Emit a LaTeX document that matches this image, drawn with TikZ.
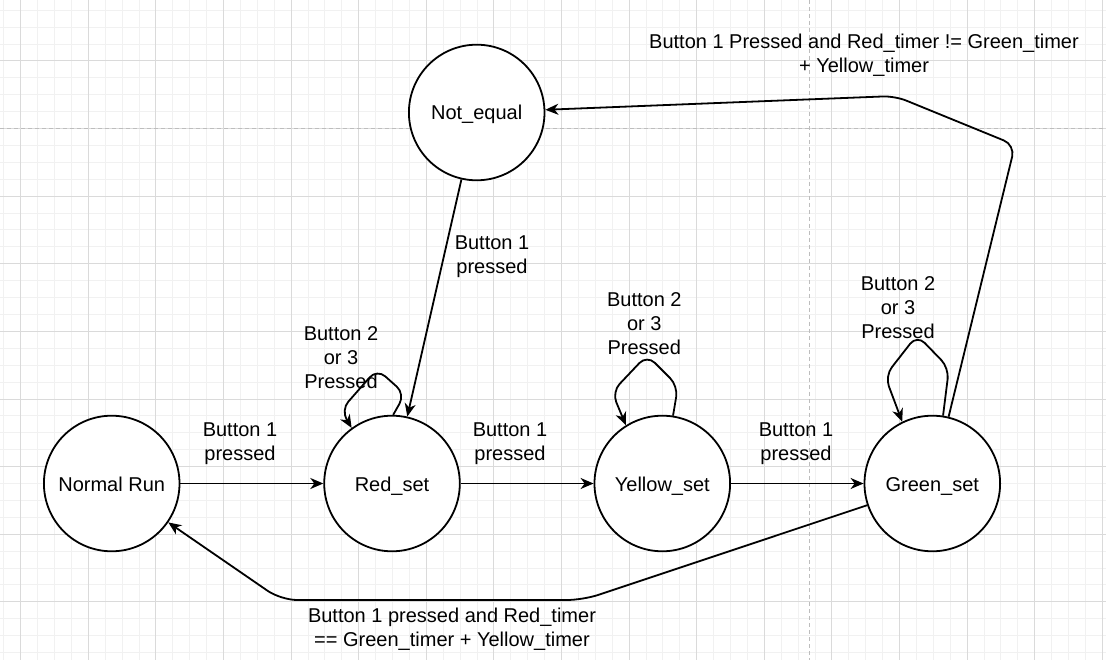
\documentclass[tikz,border=0pt]{standalone}
\usepackage{fontspec}
\setmainfont{Liberation Sans}
\usetikzlibrary{arrows.meta}
\definecolor{gridminor}{HTML}{F1F1F1}
\definecolor{gridmajor}{HTML}{DADADA}
\definecolor{pagebreak}{HTML}{BDBDBD}
\tikzset{
  state/.style={circle, draw=black, line width=1.8pt, fill=white, minimum size=135.6pt, inner sep=0pt, text height=15pt, text depth=0pt, font=\fontsize{20}{24}\selectfont},
  lbl/.style={align=center, inner sep=0pt, text depth=0pt, font=\fontsize{20}{24}\selectfont},
  arr/.style={draw=black, line width=1.8pt, -{Stealth[length=13pt,width=11pt,inset=4pt]}},
}
\begin{document}
\begin{tikzpicture}[x=1pt,y=-1pt]
\useasboundingbox (0,0) rectangle (1106,660);
\fill[white] (0,0) rectangle (1106,660);
% grid
\foreach \i in {0,...,65} {\draw[gridminor, line width=1pt] ({3.8+16.9*\i},0) -- ({3.8+16.9*\i},660);}
\foreach \i in {0,...,38} {\draw[gridminor, line width=1pt] (0,{10.3+16.9*\i}) -- (1106,{10.3+16.9*\i});}
\foreach \j in {0,...,16} {\draw[gridmajor, line width=1pt] ({20.7+67.6*\j},0) -- ({20.7+67.6*\j},660);}
\foreach \j in {0,...,8} {\draw[gridmajor, line width=1pt] (0,{61+67.6*\j}) -- (1106,{61+67.6*\j});}
\draw[pagebreak, line width=1pt, dash pattern=on 4pt off 3pt] (0,128.5) -- (1106,128.5);
\draw[pagebreak, line width=1pt, dash pattern=on 4pt off 3pt] (809.3,0) -- (809.3,660);

% states
\node[state] (nr) at (111.7,483.5) {Normal Run};
\node[state] (rs) at (392,483.5) {Red\_set};
\node[state] (ys) at (662.3,483.5) {Yellow\_set};
\node[state] (gs) at (932.3,483.5) {Green\_set};
\node[state] (ne) at (476.7,112.5) {Not\_equal};

% waypoints
\coordinate (b1) at (583,600);
\coordinate (b2) at (281,600);
\coordinate (t1) at (1015,145);
\coordinate (t2) at (895,96);

% transitions
\draw[arr] (nr) -- (rs);
\draw[arr] (rs) -- (ys);
\draw[arr] (ys) -- (gs);
\draw[arr] (ne) -- (rs);
\draw[arr, rounded corners=16pt] (gs) -- (b1) -- (b2) -- (nr);
\draw[arr, rounded corners=12pt] (gs) -- (t1) -- (t2) -- (ne);

% self loops
\draw[arr, rounded corners=11pt] (rs.89) -- (405,394) -- (377,369) -- (341,410) -- (rs.126);
\draw[arr, rounded corners=11pt] (ys.81) -- (678,386) -- (647,355) -- (612,392) -- (ys.122);
\draw[arr, rounded corners=11pt] (gs.81.5) -- (949,368) -- (917,335) -- (885,376) -- (gs.116);

% labels
\node[lbl] (l1) at (240,442) {Button 1\\pressed};
\node[lbl] (l2) at (510,442) {Button 1\\pressed};
\node[lbl] (l3) at (796,442) {Button 1\\pressed};
\node[lbl] (l4) at (492,255) {Button 1\\pressed};
\node[lbl] (l5) at (864,53) {Button 1 Pressed and Red\_timer != Green\_timer\\+ Yellow\_timer};
\node[lbl] (l6) at (452,627) {Button 1 pressed and Red\_timer\\== Green\_timer + Yellow\_timer};
\node[lbl] (l7) at (341,358) {Button 2\\or 3\\Pressed};
\node[lbl] (l8) at (644.3,323.5) {Button 2\\or 3\\Pressed};
\node[lbl] (l9) at (898,308) {Button 2\\or 3\\Pressed};
\end{tikzpicture}
\end{document}
